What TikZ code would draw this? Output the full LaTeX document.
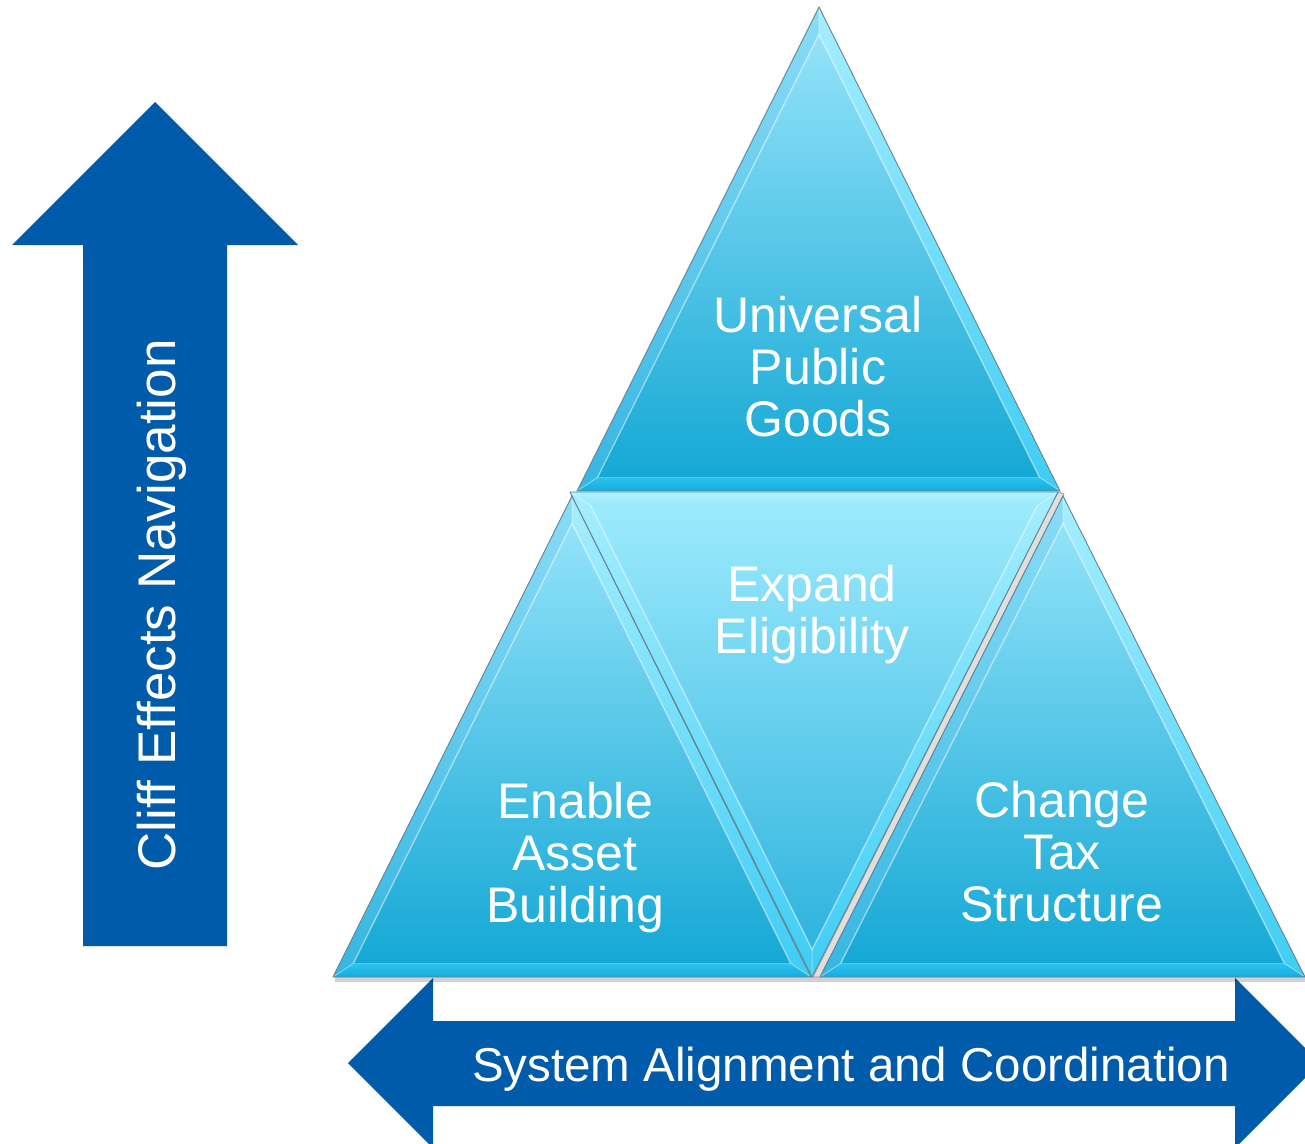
\documentclass[tikz,border=0pt]{standalone}
\usepackage{fontspec}
\setmainfont{Liberation Sans}
\usetikzlibrary{calc}
\definecolor{arrowblue}{HTML}{005BAA}
\definecolor{inA}{HTML}{93E3FA}
\definecolor{inB}{HTML}{15A8D5}
\definecolor{bLA}{HTML}{8ADCF6}
\definecolor{bLB}{HTML}{35B6E2}
\definecolor{bRA}{HTML}{A6EEFE}
\definecolor{bRB}{HTML}{3ECDF4}
\definecolor{bBA}{HTML}{2EC2EE}
\definecolor{bBB}{HTML}{14ACDC}
\definecolor{mInA}{HTML}{9CEAFD}
\definecolor{mInB}{HTML}{2EB3DE}
\definecolor{mTA}{HTML}{B0F3FF}
\definecolor{mTB}{HTML}{98E8FC}
\definecolor{edgegray}{HTML}{5F8595}
\tikzset{
  lbl/.style={text=white, align=center, inner sep=0pt, font=\fontsize{50}{52}\selectfont},
  edgeline/.style={draw=edgegray, line width=0.9pt, line join=miter},
  hiline/.style={draw=white, draw opacity=0.45, line width=1.4pt},
  miterline/.style={draw=white, draw opacity=0.35, line width=1pt},
}
\newcommand\bevcoords[4]{%
  \coordinate (#1A) at (#2);
  \coordinate (#1B) at (#3);
  \coordinate (#1C) at (#4);
  \coordinate (#1G) at (barycentric cs:#1A=1,#1B=1,#1C=1);
  \coordinate (#1a) at ($(#1A)!0.085!(#1G)$);
  \coordinate (#1b) at ($(#1B)!0.085!(#1G)$);
  \coordinate (#1c) at ($(#1C)!0.085!(#1G)$);
}
% upright triangle: apex, bottom-left, bottom-right
\newcommand\uptri[4]{%
  \bevcoords{#1}{#2}{#3}{#4}
  \shade[top color=bLA, bottom color=bLB] (#1A)--(#1B)--(#1b)--(#1a)--cycle;
  \shade[top color=bRA, bottom color=bRB] (#1A)--(#1C)--(#1c)--(#1a)--cycle;
  \shade[top color=bBA, bottom color=bBB] (#1B)--(#1C)--(#1c)--(#1b)--cycle;
  \shade[top color=inA, bottom color=inB] (#1a)--(#1b)--(#1c)--cycle;
  \draw[hiline] (#1b)--(#1a)--(#1c);
  \draw[miterline] (#1A)--(#1a) (#1B)--(#1b) (#1C)--(#1c);
  \draw[edgeline] (#1A)--(#1B)--(#1C)--cycle;
}
% inverted triangle: top-left, top-right, bottom apex
\newcommand\downtri[4]{%
  \bevcoords{#1}{#2}{#3}{#4}
  \shade[top color=mTA, bottom color=mTB] (#1A)--(#1B)--(#1b)--(#1a)--cycle;
  \shade[top color=bRA, bottom color=bRB] (#1A)--(#1C)--(#1c)--(#1a)--cycle;
  \shade[top color=bRA, bottom color=bRB] (#1B)--(#1C)--(#1c)--(#1b)--cycle;
  \shade[top color=mInA, bottom color=mInB] (#1a)--(#1b)--(#1c)--cycle;
  \draw[hiline] (#1a)--(#1c)--(#1b);
  \draw[miterline] (#1A)--(#1a) (#1B)--(#1b) (#1C)--(#1c);
  \draw[edgeline] (#1A)--(#1B)--(#1C)--cycle;
}
\begin{document}
\begin{tikzpicture}[x=1pt,y=-1pt]
\useasboundingbox (0,0) rectangle (1305,1143);
\clip (0,0) rectangle (1305,1143);
\fill[white] (0,0) rectangle (1305,1143);

% vertical arrow
\fill[arrowblue] (155,102) -- (298,245) -- (227,245) -- (227,946) -- (83,946) -- (83,245) -- (12,245) -- cycle;
\node[lbl, font=\fontsize{53}{55}\selectfont, rotate=90, anchor=base] (cliff) at (175,605) {Cliff Effects Navigation};

% horizontal double arrow
\fill[arrowblue] (348,1063) -- (433,978) -- (433,1021) -- (1235,1021) -- (1235,978) -- (1320,1063)
  -- (1235,1148) -- (1235,1106) -- (433,1106) -- (433,1148) -- cycle;
\node[lbl, font=\fontsize{47.5}{50}\selectfont, anchor=base] (sys) at (851,1081) {System Alignment and Coordination};

% base shadow
\fill[black, opacity=0.18] (335,977) rectangle (1305,982);

% triangles
\uptri{L}{572,496}{333,977}{811,977}
\fill[gray!25, draw=gray!80, line width=0.7pt] (1058,492) -- (1064,494) -- (820,977) -- (813,977) -- cycle;
\uptri{R}{1063,496}{820,977}{1305,977}
\downtri{M}{570,492}{1058,492}{812,977}
\uptri{T}{819,7}{577,491}{1060,491}

% labels
\node[lbl] (upg) at (818,367) {Universal\\Public\\Goods};
\node[lbl] (exp) at (812,614.5) {Expand\\Eligibility};
\node[lbl] (eab) at (575,857.5) {Enable\\Asset\\Building};
\node[lbl] (cts) at (1062,852) {Change\\Tax\\Structure};
\end{tikzpicture}
\end{document}
